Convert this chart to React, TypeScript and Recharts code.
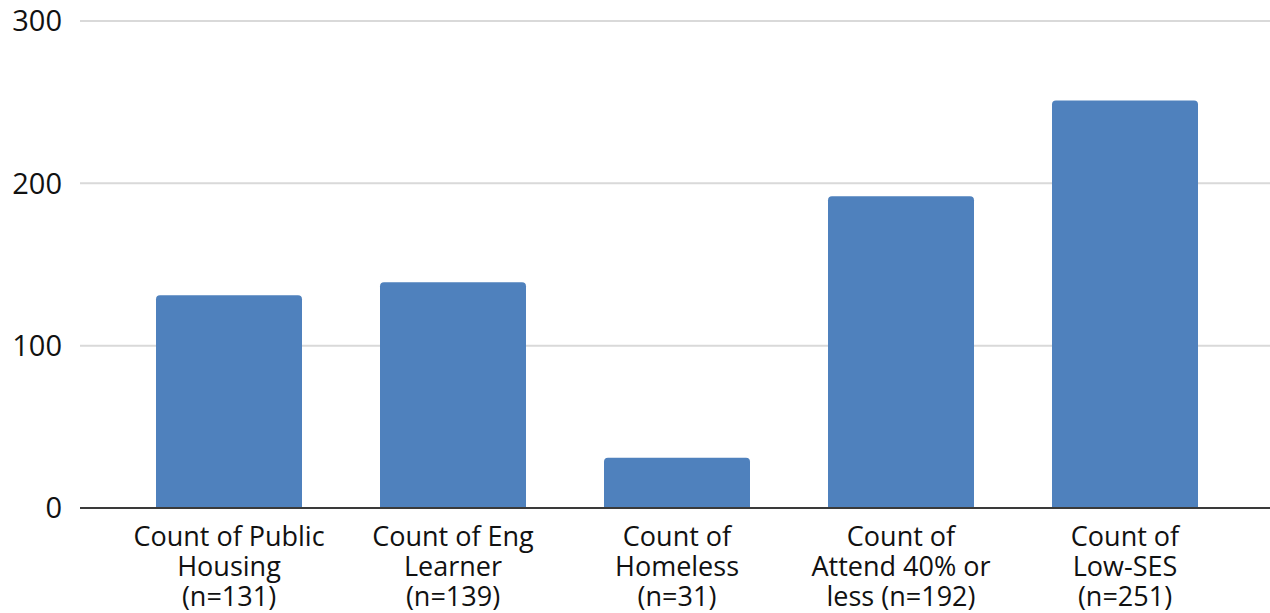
import React from "react";
import { BarChart, Bar, XAxis, YAxis, CartesianGrid } from "recharts";

const categories = [
  "Count of Public|Housing|(n=131)",
  "Count of Eng|Learner|(n=139)",
  "Count of|Homeless|(n=31)",
  "Count of|Attend 40% or|less (n=192)",
  "Count of|Low-SES|(n=251)",
];
const counts = [131, 139, 31, 192, 251];
const yTicks = [0, 100, 200, 300];

const data = categories.map((name, i) => ({ name, value: counts[i] }));

const FONT = "'Open Sans', sans-serif";

const CategoryTick = (props: any) => {
  const { x, y, payload } = props;
  const lines = String(payload.value).split("|");
  return (
    <g transform={`translate(${x},${y})`}>
      <text
        x={0}
        y={0}
        textAnchor="middle"
        fill="#111"
        fontSize={27}
        fontFamily={FONT}
      >
        {lines.map((line, i) => (
          <tspan key={i} x={0} dy={i === 0 ? 30 : 30}>
            {line}
          </tspan>
        ))}
      </text>
    </g>
  );
};

const App = () => {
  return (
    <div style={{ position: "absolute", left: 0, top: 0, background: "#fff" }}>
      <BarChart
        width={1270}
        height={613}
        data={data}
        margin={{ top: 21, right: 0, bottom: 0, left: 0 }}
      >
        <CartesianGrid vertical={false} stroke="#d9d9d9" strokeWidth={2} />
        <XAxis
          dataKey="name"
          height={105}
          padding={{ left: 37, right: 33 }}
          axisLine={{ stroke: "#3a3a3a", strokeWidth: 2 }}
          tickLine={false}
          interval={0}
          tick={<CategoryTick />}
        />
        <YAxis
          width={80}
          domain={[0, 300]}
          ticks={yTicks}
          axisLine={false}
          tickLine={false}
          tickMargin={12}
          tick={{ fontSize: 29, fill: "#111", fontFamily: FONT }}
        />
        <Bar
          dataKey="value"
          fill="#4f81bd"
          barSize={146}
          radius={[4, 4, 0, 0]}
          isAnimationActive={false}
        />
      </BarChart>
    </div>
  );
};

export default App;
